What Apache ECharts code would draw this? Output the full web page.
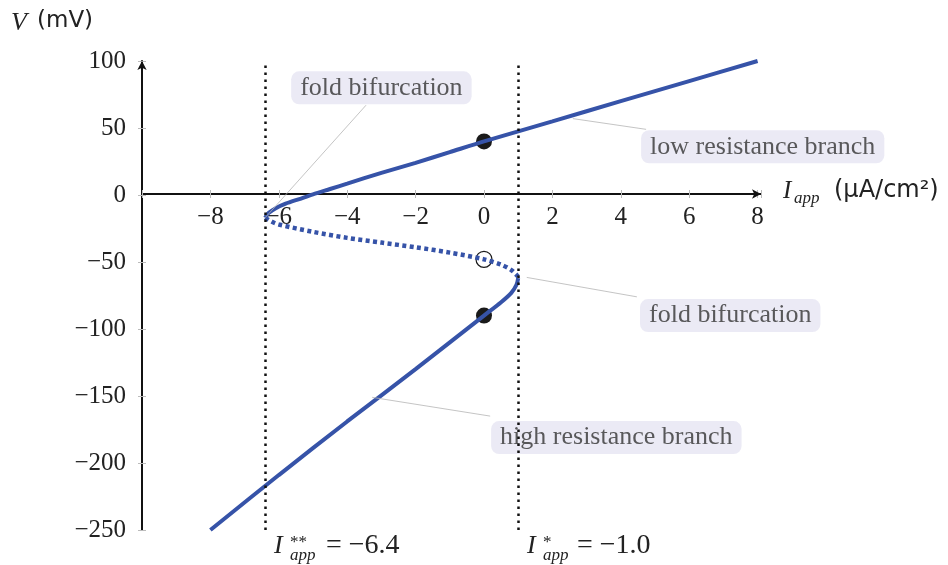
<!DOCTYPE html>
<html>
<head>
<meta charset="UTF-8">
<script src="https://cdn.jsdelivr.net/npm/echarts@6/dist/echarts.min.js"></script>
<title></title>
<style>
  html, body { margin: 0; padding: 0; background: #fff; }
  #main { width: 948px; height: 565px; }
</style>
</head>
<body>
<div id="main"></div>
<script>
// axis ticks
var xTicks = [-8, -6, -4, -2, 0, 2, 4, 6, 8];
var yTicks = [-250, -200, -150, -100, -50, 0, 50, 100];

// branches of the I-V curve
var lowBranch = [[-6.4,-17],[-6.3,-13.5],[-6.1,-10],[-5.8,-6.5],[-5.4,-3],[-5.0,0.5],[-4.5,4.5],[-4,8.5],[-3,16.5],[-2,24],[-1,32],[0,40],[2,55],[4,70],[6,85],[8,100]];
var midBranch = [[-6.4,-17],[-6.2,-20],[-6,-22],[-5,-27.5],[-4,-32],[-3,-35.5],[-2,-39],[-1,-43],[0,-48],[0.5,-52],[0.8,-56],[1.0,-61]];
var highBranch = [[1.0,-62],[0.95,-67],[0.8,-73],[0.5,-80],[0,-90],[-2,-130],[-4,-169],[-6,-209],[-8,-250]];

// equilibria at I_app = 0
var stablePts = [[0,40],[0,-90]];
var unstablePts = [[0,-48]];

// fold positions
var foldX = [-6.4, 1.0];

// annotation boxes: [x, y, text] and pointer lines
var notes = [[-3.0, 80, 'fold bifurcation'], [8.15, 36, 'low resistance branch'], [7.2, -90, 'fold bifurcation'], [3.87, -181, 'high resistance branch']];
var pointers = [
  [[-6.4,-17],[-3.45,67]],
  [[2.6,57],[4.74,49]],
  [[1.25,-61.5],[4.47,-76]],
  [[-3.27,-151],[0.18,-165]]
];

var blue = '#3653a8';
var serif = 'Liberation Serif';
var sans = 'DejaVu Sans';

function fmt(v) {
  if (xTicks.indexOf(v) < 0 && yTicks.indexOf(v) < 0) return '';
  return String(v).replace('-', '\u2212');
}

var myChart = echarts.init(document.getElementById('main'));

var series = [];
series.push({
  type: 'line', data: highBranch, showSymbol: false, smooth: 0.3, silent: true,
  lineStyle: { color: blue, width: 4 },
  markLine: {
    silent: true, symbol: 'none', label: { show: false },
    lineStyle: { color: '#111', type: [2.5, 4.5], width: 2.5 },
    data: foldX.map(function (x) { return { xAxis: x }; })
  }
});
series.push({
  type: 'line', data: lowBranch, showSymbol: false, smooth: 0.3, silent: true,
  lineStyle: { color: blue, width: 4 }
});
series.push({
  type: 'line', data: midBranch, showSymbol: false, smooth: 0.3, silent: true,
  lineStyle: { color: blue, width: 4.5, type: [4, 3.4], cap: 'butt' }
});
pointers.forEach(function (p) {
  series.push({
    type: 'line', data: p, showSymbol: false, silent: true,
    lineStyle: { color: '#b5b5b5', width: 0.8 }
  });
});
series.push({
  type: 'scatter', data: stablePts, symbolSize: 16, silent: true,
  itemStyle: { color: '#1a1a1a', opacity: 1 }
});
series.push({
  type: 'scatter', data: unstablePts, symbolSize: 16, silent: true,
  itemStyle: { color: '#fff', borderColor: '#1a1a1a', borderWidth: 1.2, opacity: 1 }
});
series.push({
  type: 'scatter', symbolSize: 0, silent: true, clip: false,
  data: notes.map(function (n) { return { value: [n[0], n[1]], name: n[2] }; }),
  label: {
    show: true, position: 'inside', formatter: '{b}',
    fontFamily: serif, fontSize: 26, color: '#333',
    backgroundColor: '#e6e5f2', borderRadius: 8, padding: [4, 9, 3, 9]
  }
});

var tickGray = { color: '#bbb', width: 1 };

myChart.setOption({
  animation: false,
  grid: [
    { left: 142, right: 187, top: 61, bottom: 35 },
    // thin band that ends at V = 0, used only to draw the current axis there
    { left: 142, right: 187, top: 61, bottom: 371 }
  ],
  xAxis: [{
    type: 'value', gridIndex: 0, min: -10, max: 8.1, interval: 2, show: false
  }, {
    type: 'value', gridIndex: 1, min: -10, max: 8.1, interval: 2, position: 'bottom',
    splitLine: { show: false },
    axisLine: { onZero: false, lineStyle: { color: '#111', width: 2 }, symbol: ['none', 'arrow'], symbolSize: [7, 9] },
    axisTick: { show: true, length: 4, lineStyle: tickGray },
    axisLabel: { formatter: fmt, fontFamily: serif, fontSize: 25, color: '#222', margin: 11 }
  }, {
    type: 'value', gridIndex: 1, min: -10, max: 8.1, interval: 2, position: 'bottom',
    splitLine: { show: false },
    axisLine: { show: false, onZero: false },
    axisTick: { show: true, inside: true, length: 4, lineStyle: tickGray },
    axisLabel: { show: false }
  }],
  yAxis: [{
    type: 'value', gridIndex: 0, min: -250, max: 100, interval: 50,
    splitLine: { show: false },
    axisLine: { onZero: false, lineStyle: { color: '#111', width: 2 }, symbol: ['none', 'arrow'], symbolSize: [7, 9] },
    axisTick: { show: true, length: 4, lineStyle: tickGray },
    axisLabel: { formatter: fmt, fontFamily: serif, fontSize: 25, color: '#222', margin: 16 }
  }, {
    type: 'value', gridIndex: 0, min: -250, max: 100, interval: 50, position: 'left',
    splitLine: { show: false },
    axisLine: { show: false, onZero: false },
    axisTick: { show: true, inside: true, length: 4, lineStyle: tickGray },
    axisLabel: { show: false }
  }, {
    type: 'value', gridIndex: 1, show: false
  }],
  graphic: [
    // y axis name
    { type: 'text', left: 11, top: 10, style: { text: 'V', font: 'italic 26px ' + serif, fill: '#222' } },
    { type: 'text', left: 37, top: 10, style: { text: '(mV)', font: '23px ' + sans, fill: '#222' } },
    // x axis name
    { type: 'text', left: 783, top: 179, style: { text: 'I', font: 'italic 25px ' + serif, fill: '#222' } },
    { type: 'text', left: 794, top: 190, style: { text: 'app', font: 'italic 17px ' + serif, fill: '#222' } },
    { type: 'text', left: 834, top: 179, style: { text: '(\u03bcA/cm\u00b2)', font: '24px ' + sans, fill: '#222' } },
    // fold labels at the bottom
    { type: 'text', left: 274, top: 533, style: { text: 'I', font: 'italic 26px ' + serif, fill: '#222' } },
    { type: 'text', left: 290, top: 534, style: { text: '**', font: '17px ' + serif, fill: '#222' } },
    { type: 'text', left: 290, top: 547, style: { text: 'app', font: 'italic 17px ' + serif, fill: '#222' } },
    { type: 'text', left: 326, top: 532, style: { text: '= \u22126.4', font: '28px ' + serif, fill: '#222' } },
    { type: 'text', left: 527, top: 533, style: { text: 'I', font: 'italic 26px ' + serif, fill: '#222' } },
    { type: 'text', left: 543, top: 534, style: { text: '*', font: '17px ' + serif, fill: '#222' } },
    { type: 'text', left: 543, top: 547, style: { text: 'app', font: 'italic 17px ' + serif, fill: '#222' } },
    { type: 'text', left: 577, top: 532, style: { text: '= \u22121.0', font: '28px ' + serif, fill: '#222' } }
  ],
  series: series
});
</script>
</body>
</html>
